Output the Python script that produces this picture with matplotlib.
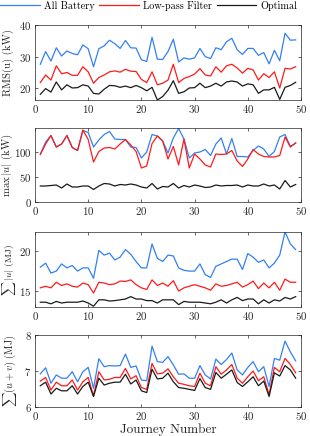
import numpy as np
import matplotlib
matplotlib.use("Agg")
import matplotlib.pyplot as plt
from matplotlib.lines import Line2D

plt.rcParams['font.family'] = 'serif'
plt.rcParams['font.serif'] = ['cmr10', 'DejaVu Serif']
plt.rcParams['mathtext.fontset'] = 'cm'
plt.rcParams['axes.formatter.use_mathtext'] = True
plt.rcParams['axes.unicode_minus'] = False

journeys = np.arange(1, 50)

rms_battery = [27.6, 31.6, 28.6, 32.8, 30.2, 31.8, 31.0, 30.6, 33.7, 32.5,
               26.8, 32.5, 33.4, 35.2, 34.1, 32.6, 35.1, 32.8, 32.7, 29.0,
               28.5, 36.1, 29.2, 29.1, 31.6, 35.5, 28.3, 29.6, 29.2, 29.6,
               32.6, 30.0, 29.4, 32.8, 32.2, 34.7, 35.8, 32.2, 30.7, 32.6,
               32.6, 30.4, 31.3, 27.7, 32.0, 28.7, 37.4, 35.2, 35.3]
rms_lowpass = [21.8, 24.2, 22.6, 27.1, 24.6, 25.0, 24.1, 24.1, 26.8, 25.2,
               21.6, 23.4, 24.2, 25.2, 25.5, 25.1, 26.0, 25.4, 25.3, 22.8,
               21.8, 25.2, 21.1, 21.6, 22.6, 27.6, 21.8, 23.1, 23.7, 24.5,
               26.2, 24.2, 23.9, 26.8, 25.1, 27.1, 27.6, 26.4, 24.8, 26.3,
               25.8, 22.6, 24.6, 23.4, 25.2, 20.1, 26.3, 26.1, 26.8]
rms_optimal = [18.1, 19.9, 18.8, 22.0, 19.5, 21.1, 20.1, 20.2, 21.1, 20.7,
               18.4, 18.2, 19.7, 20.9, 20.8, 20.3, 20.7, 20.2, 20.9, 20.2,
               19.2, 20.3, 16.3, 17.4, 19.4, 22.4, 18.4, 18.9, 20.1, 20.2,
               21.6, 20.2, 20.7, 21.6, 20.7, 22.0, 22.3, 22.0, 20.7, 21.4,
               21.1, 18.4, 19.5, 19.5, 20.3, 16.5, 20.3, 20.9, 21.9]

max_battery = [96, 120, 133, 110, 116, 133, 109, 103, 143, 139,
               110, 124, 135, 141, 126, 125, 125, 110, 109, 88,
               100, 135, 132, 122, 98, 128, 147, 126, 88, 98,
               100, 105, 93, 116, 128, 96, 127, 91, 91, 90,
               103, 112, 106, 91, 101, 130, 135, 111, 118]
max_lowpass = [95, 116, 133, 110, 116, 133, 109, 103, 144, 125,
               80, 101, 108, 109, 106, 116, 125, 114, 101, 68,
               72, 117, 132, 122, 86, 111, 74, 126, 68, 96,
               86, 74, 70, 96, 95, 96, 103, 82, 71, 86,
               105, 96, 91, 90, 90, 93, 130, 110, 118]
max_optimal = [32, 32, 33, 34, 28, 36, 30, 30, 32, 32,
               25, 32, 37, 36, 32, 35, 34, 36, 34, 30,
               28, 37, 26, 31, 30, 37, 28, 33, 30, 34,
               32, 29, 30, 34, 32, 33, 33, 34, 30, 34,
               32, 32, 36, 32, 34, 26, 43, 30, 35]

sum_battery = [18.0, 18.5, 17.25, 17.5, 18.4, 17.9, 18.2, 17.5, 17.9, 17.9,
               16.6, 20.1, 19.5, 19.75, 18.9, 19.25, 20.2, 19.6, 18.7, 17.9,
               17.9, 20.9, 19.1, 18.7, 19.5, 19.4, 17.9, 17.6, 17.5, 17.5,
               18.4, 17.05, 16.7, 18.1, 18.4, 18.7, 19.0, 19.0, 17.7, 19.7,
               19.25, 18.6, 18.9, 17.9, 18.5, 19.5, 22.4, 20.9, 20.2]
sum_lowpass = [15.4, 15.6, 15.4, 16.1, 15.7, 15.9, 15.6, 15.5, 16.0, 15.8,
               14.75, 16.1, 16.0, 15.8, 15.9, 16.25, 16.2, 16.4, 15.8, 15.4,
               15.2, 16.4, 15.7, 16.0, 15.6, 16.3, 15.0, 15.4, 15.6, 15.8,
               15.6, 15.4, 15.1, 15.9, 15.6, 15.7, 15.9, 16.1, 15.5, 15.8,
               16.25, 15.3, 16.0, 15.4, 16.1, 15.1, 16.5, 16.1, 16.1]
sum_optimal = [13.6, 13.6, 13.4, 13.7, 13.5, 13.6, 13.6, 13.6, 13.75, 13.5,
               13.1, 13.9, 13.9, 13.75, 13.8, 13.9, 14.0, 14.3, 14.0, 14.0,
               13.8, 13.8, 13.5, 13.9, 13.9, 13.9, 13.3, 13.7, 13.6, 13.6,
               13.6, 13.5, 13.4, 13.6, 13.9, 13.5, 13.9, 14.2, 13.8, 14.0,
               14.0, 13.4, 13.9, 13.5, 13.9, 13.75, 14.2, 14.0, 14.3]

uv_battery = [6.92, 7.09, 6.66, 6.89, 6.80, 6.80, 6.98, 6.70, 6.98, 7.10,
              6.52, 7.34, 7.12, 7.15, 7.14, 7.15, 7.47, 7.10, 7.14, 6.75,
              6.73, 7.69, 7.26, 7.24, 7.40, 7.17, 6.91, 6.92, 6.80, 6.80,
              7.15, 6.89, 6.78, 7.33, 7.18, 7.32, 7.50, 7.03, 6.89, 7.10,
              7.26, 6.98, 7.12, 6.57, 7.35, 7.30, 7.83, 7.53, 7.28]
uv_lowpass = [6.72, 6.82, 6.47, 6.69, 6.59, 6.59, 6.75, 6.47, 6.70, 6.82,
              6.31, 6.98, 6.75, 6.77, 6.82, 6.82, 7.07, 6.78, 6.87, 6.54,
              6.49, 7.21, 6.92, 6.94, 7.06, 6.84, 6.66, 6.63, 6.59, 6.57,
              6.94, 6.66, 6.59, 7.12, 6.91, 7.03, 7.18, 6.80, 6.66, 6.84,
              7.00, 6.73, 6.84, 6.34, 7.10, 6.98, 7.35, 7.18, 6.95]
uv_optimal = [6.59, 6.69, 6.36, 6.52, 6.45, 6.45, 6.59, 6.36, 6.57, 6.69,
              6.29, 6.80, 6.61, 6.66, 6.69, 6.69, 6.91, 6.64, 6.75, 6.45,
              6.40, 7.05, 6.78, 6.80, 6.94, 6.70, 6.54, 6.52, 6.49, 6.46,
              6.79, 6.54, 6.49, 6.96, 6.80, 6.91, 7.03, 6.68, 6.57, 6.70,
              6.84, 6.59, 6.72, 6.29, 6.95, 6.86, 7.15, 7.03, 6.80]

series_names = ['All Battery', 'Low-pass Filter', 'Optimal']
colors = ['#3380f2', '#ff1a1a', '#1a1a1a']

panels = [
    (rms_battery, rms_lowpass, rms_optimal, 'RMS(u) (kW)', (16.3, 40), [20, 30, 40]),
    (max_battery, max_lowpass, max_optimal, r'$\max\,|u|$ (kW)', (0, 148), [0, 50, 100]),
    (sum_battery, sum_lowpass, sum_optimal, r'$\sum\,|u|$ (MJ)', (13.0, 22.4), [15, 20]),
    (uv_battery, uv_lowpass, uv_optimal, r'$\sum(u+v)$ (MJ)', (6, 8), [6, 7, 8]),
]
label_x = [8.5, 7.0, 9.5, 10.5]
label_size = [7.8, 7.8, 7.0, 7.4]

fig = plt.figure(figsize=(3.1, 4.36), dpi=100)
W, H = 310, 436
boxes = [(25, 100), (128, 202), (232, 307), (335, 407)]
left, right = 35, 301
axes = []
for (top, bot), (b, l, o, lab, yl, yt), lx, ls in zip(boxes, panels, label_x, label_size):
    ax = fig.add_axes([left / W, 1 - bot / H, (right - left) / W, (bot - top) / H])
    for vals, c in zip((b, l, o), colors):
        ax.plot(journeys, vals, color=c, lw=0.9)
    ax.set_xlim(0, 50)
    ax.set_ylim(*yl)
    ax.set_yticks(yt)
    ax.set_xticks([0, 10, 20, 30, 40, 50])
    ax.tick_params(direction='in', length=2.5, width=0.5, labelsize=7.8,
                   top=True, right=True, pad=2.5, colors='#262626', labelcolor='#262626')
    for s in ax.spines.values():
        s.set_linewidth(0.5)
        s.set_color('#262626')
    axes.append(ax)
    fig.text(lx / W, 1 - ((top + bot) / 2) / H, lab, rotation=90, ha='center', va='center',
             fontsize=ls, color='#262626')

axes[-1].set_xlabel('Journey Number', fontsize=9.5, labelpad=1, color='#262626')

handles = [Line2D([], [], color=c, lw=0.9) for c in colors]
fig.legend(handles, series_names, loc='center left', ncol=3, frameon=False,
           bbox_to_anchor=(0.0, 1 - 6 / H), fontsize=7.3, handlelength=3.9,
           handletextpad=0.4, columnspacing=0.5, borderpad=0.0, borderaxespad=0.0)

fig.savefig('out.png', dpi=100)
